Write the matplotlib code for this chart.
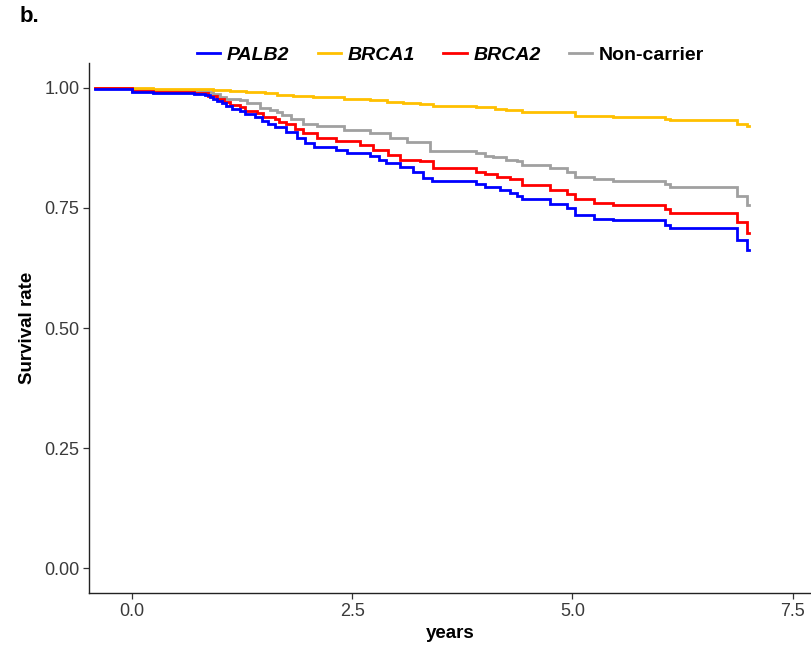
import matplotlib
matplotlib.use("Agg")
import matplotlib.pyplot as plt
from matplotlib.lines import Line2D

plt.rcParams['font.family'] = ['Liberation Sans', 'DejaVu Sans']

# ---- data ----
palb2_t = [-0.42, 0.00, 0.24, 0.70, 0.83, 0.885, 0.92, 0.96, 1.02, 1.07, 1.13, 1.23, 1.28, 1.40, 1.47,
           1.54, 1.62, 1.75, 1.87, 1.96, 2.06, 2.32, 2.44, 2.70, 2.80, 2.88, 3.04, 3.19, 3.30, 3.40,
           3.91, 4.01, 4.18, 4.29, 4.37, 4.43, 4.74, 4.94, 5.03, 5.24, 5.46, 6.05, 6.11, 6.87, 6.98, 7.00]
palb2_s = [0.998, 0.992, 0.990, 0.9875, 0.986, 0.982, 0.977, 0.972, 0.968, 0.963, 0.956, 0.953, 0.946, 0.940, 0.931,
           0.926, 0.918, 0.908, 0.895, 0.886, 0.878, 0.871, 0.864, 0.858, 0.850, 0.843, 0.835, 0.824, 0.812, 0.806,
           0.801, 0.793, 0.7875, 0.782, 0.776, 0.769, 0.758, 0.749, 0.735, 0.728, 0.724, 0.715, 0.708, 0.683, 0.6625, 0.6625]

brca1_t = [-0.42, 0.00, 0.24, 0.92, 1.11, 1.29, 1.51, 1.65, 1.83, 2.05, 2.40, 2.70, 2.89, 3.08, 3.27, 3.42,
           3.91, 4.12, 4.25, 4.43, 4.77, 5.03, 5.46, 6.05, 6.11, 6.87, 6.98, 7.00]
brca1_s = [1.000, 0.999, 0.9985, 0.996, 0.993, 0.991, 0.989, 0.986, 0.984, 0.981, 0.977, 0.975, 0.971, 0.969, 0.967, 0.9625,
           0.960, 0.956, 0.954, 0.951, 0.949, 0.942, 0.939, 0.935, 0.933, 0.926, 0.921, 0.921]

brca2_t = [-0.42, 0.00, 0.24, 0.70, 0.86, 0.96, 1.04, 1.11, 1.23, 1.28, 1.42, 1.49, 1.62, 1.67, 1.75, 1.85,
           1.94, 2.10, 2.32, 2.59, 2.74, 2.90, 3.04, 3.27, 3.42, 3.91, 4.01, 4.14, 4.29, 4.43, 4.74, 4.94,
           5.03, 5.24, 5.46, 6.05, 6.11, 6.87, 6.98, 7.00]
brca2_s = [0.999, 0.994, 0.991, 0.989, 0.984, 0.977, 0.970, 0.965, 0.961, 0.953, 0.947, 0.939, 0.935, 0.929, 0.924, 0.915,
           0.906, 0.895, 0.890, 0.881, 0.871, 0.860, 0.850, 0.847, 0.833, 0.826, 0.821, 0.815, 0.810, 0.797, 0.7875, 0.780,
           0.768, 0.761, 0.756, 0.747, 0.740, 0.720, 0.697, 0.697]

nonc_t = [-0.42, 0.00, 0.70, 0.86, 0.92, 1.00, 1.07, 1.23, 1.30, 1.45, 1.57, 1.65, 1.70, 1.80, 1.94, 2.10,
          2.40, 2.70, 2.93, 3.12, 3.38, 3.91, 4.01, 4.10, 4.25, 4.37, 4.43, 4.74, 4.94, 5.03, 5.24, 5.46,
          6.05, 6.11, 6.87, 6.98, 7.00]
nonc_s = [0.999, 0.995, 0.993, 0.991, 0.9875, 0.982, 0.977, 0.974, 0.968, 0.958, 0.954, 0.949, 0.944, 0.935, 0.926, 0.920,
          0.9125, 0.907, 0.895, 0.888, 0.869, 0.864, 0.858, 0.856, 0.850, 0.847, 0.840, 0.833, 0.826, 0.814, 0.810, 0.806,
          0.800, 0.793, 0.774, 0.756, 0.756]

labels = ['PALB2', 'BRCA1', 'BRCA2', 'Non-carrier']
italic = [True, True, True, False]
colors = ['#0000FF', '#FFC000', '#FF0000', '#A0A0A0']
x_ticks = [0.0, 2.5, 5.0, 7.5]
y_ticks = [0.00, 0.25, 0.50, 0.75, 1.00]

series = [(palb2_t, palb2_s), (brca1_t, brca1_s), (brca2_t, brca2_s), (nonc_t, nonc_s)]

# ---- figure ----
W, H = 812, 645
fig = plt.figure(figsize=(W / 100, H / 100), dpi=100)
ax = fig.add_axes([89 / W, 1 - 593 / H, (812 - 89) / W, (593 - 63.5) / H])

# draw order: gray, yellow, red, blue (blue on top)
for idx in [3, 1, 2, 0]:
    t, s = series[idx]
    ax.step(t, s, where='post', color=colors[idx], lw=2.0, solid_joinstyle='miter')

ax.set_xlim(-0.49, 7.72)
ax.set_ylim(-0.052, 1.051)
ax.set_xticks(x_ticks)
ax.set_xticklabels([f'{v:.1f}' for v in x_ticks])
ax.set_yticks(y_ticks)
ax.set_yticklabels([f'{v:.2f}' for v in y_ticks])

for side in ['top', 'right']:
    ax.spines[side].set_visible(False)
for side in ['left', 'bottom']:
    ax.spines[side].set_color('#222222')
    ax.spines[side].set_linewidth(1.0)
ax.tick_params(axis='both', length=4, width=0.9, color='#333333', labelsize=13,
               labelcolor='#3a3a3a', pad=3)

ax.set_xlabel('years', fontsize=13.5, fontweight='bold', labelpad=4)
ax.set_ylabel('Survival rate', fontsize=13.5, fontweight='bold', labelpad=6)

# legend
handles = [Line2D([0], [0], color=c, lw=2.0) for c in colors]
leg = ax.legend(handles, labels, loc='center', bbox_to_anchor=(0.5, 1 + (63.5 - 55) / (593 - 63.5)),
                ncol=4, frameon=False, fontsize=14, handlelength=1.2, handletextpad=0.35,
                columnspacing=1.45, borderpad=0, borderaxespad=0)
for txt, it in zip(leg.get_texts(), italic):
    txt.set_fontweight('bold')
    if it:
        txt.set_fontstyle('italic')

fig.text(20 / W, 1 - 17 / H, 'b.', fontsize=16, fontweight='bold', va='center', ha='left')

fig.savefig('out.png', dpi=100)
